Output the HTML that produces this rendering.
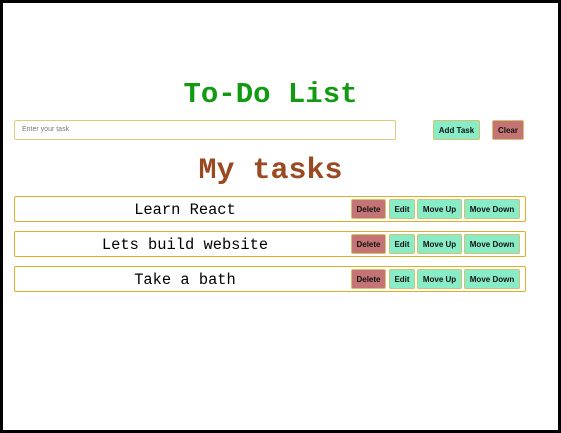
<!DOCTYPE html>
<html><head><style>
*{box-sizing:border-box;margin:0;padding:0}
body{width:561px;height:433px;background:#fff;position:relative;overflow:hidden;font-family:"Liberation Sans",sans-serif}
.frame{position:absolute;left:0;top:0;width:561px;height:433px;border:3px solid #000}
.a{position:absolute}
h1{position:absolute;left:0;width:541px;text-align:center;font-family:"Liberation Mono",monospace;font-weight:bold}
.inp{left:14px;top:120px;width:382px;height:20px;border:1px solid #e0cc80;border-radius:2px;font-size:7px;color:#777;padding:0 7px;line-height:18px}
.btn{position:absolute;height:20px;border:1px solid #d8c070;border-radius:2px;font-size:8px;font-weight:bold;color:#111;display:flex;align-items:center;justify-content:center}
.g{background:#88ecc6}.r{background:#c47474}
.row{position:absolute;left:14px;width:512px;height:26px;border:1px solid #dcae2a;border-radius:2px}
.row span{position:absolute;left:0;width:340px;text-align:center;top:4px;font-family:"Liberation Mono",monospace;font-size:15.4px;color:#000}
</style></head><body>
<div class="frame"></div>
<h1 style="top:78px;font-size:29px;color:#129a12">To-Do List</h1>
<div class="a inp">Enter your task</div>
<div class="btn g" style="left:433px;top:120px;width:47px">Add Task</div>
<div class="btn r" style="left:492px;top:120px;width:32px">Clear</div>
<h1 style="top:154px;font-size:30px;color:#9a4a22">My tasks</h1>

<div class="row" style="top:196px"><span>Learn React</span></div>
<div class="row" style="top:231px"><span>Lets build website</span></div>
<div class="row" style="top:266px"><span>Take a bath</span></div>

<div class="btn r" style="left:351px;top:199px;width:35px">Delete</div>
<div class="btn g" style="left:389px;top:199px;width:26px">Edit</div>
<div class="btn g" style="left:417px;top:199px;width:45px">Move Up</div>
<div class="btn g" style="left:464px;top:199px;width:56px">Move Down</div>

<div class="btn r" style="left:351px;top:234px;width:35px">Delete</div>
<div class="btn g" style="left:389px;top:234px;width:26px">Edit</div>
<div class="btn g" style="left:417px;top:234px;width:45px">Move Up</div>
<div class="btn g" style="left:464px;top:234px;width:56px">Move Down</div>

<div class="btn r" style="left:351px;top:269px;width:35px">Delete</div>
<div class="btn g" style="left:389px;top:269px;width:26px">Edit</div>
<div class="btn g" style="left:417px;top:269px;width:45px">Move Up</div>
<div class="btn g" style="left:464px;top:269px;width:56px">Move Down</div>
</body></html>
